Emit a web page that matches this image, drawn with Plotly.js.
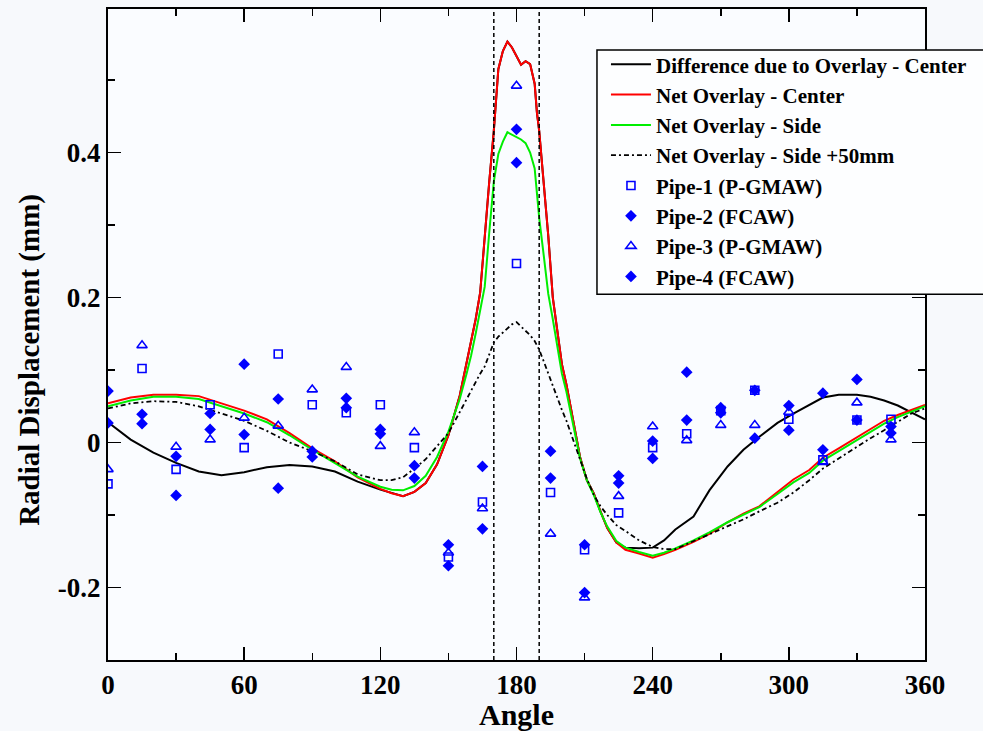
<!DOCTYPE html>
<html>
<head>
<meta charset="utf-8">
<script src="https://cdn.plot.ly/plotly-3.0.1.min.js"></script>
<style>
  html, body { margin: 0; padding: 0; background: #f7f9fc; }
  #chart { width: 983px; height: 731px; }
</style>
</head>
<body>
<div id="chart"></div>
<script>
// Angular stations (degrees) for the simulated profiles
const angleGrid = [0,10,20,30,40,50,60,70,80,90,100,110,120,125,130,135,140,145,150,155,158,160,162,164,166,168,170,172,174,176,178,180,182,184,186,188,189,190,192,194,196,198,200,202,205,208,211,214,217,220,224,228,234,240,245,250,258,265,273,280,287,295,302,309,315,322,330,336,342,348,354,360];

// Difference due to Overlay - Center (mm)
const diffCenter = [0.028,0.004,-0.014,-0.028,-0.040,-0.045,-0.041,-0.034,-0.031,-0.033,-0.040,-0.054,-0.065,-0.070,-0.074,-0.068,-0.056,-0.030,0.010,0.065,0.110,0.140,0.170,0.207,0.290,0.360,0.430,0.515,0.540,0.553,0.545,0.532,0.521,0.526,0.522,0.495,0.455,0.430,0.360,0.285,0.200,0.150,0.108,0.080,0.030,-0.020,-0.052,-0.070,-0.095,-0.118,-0.138,-0.145,-0.146,-0.145,-0.135,-0.120,-0.102,-0.066,-0.033,-0.010,0.008,0.027,0.040,0.052,0.062,0.066,0.066,0.063,0.058,0.051,0.041,0.032];

// Net Overlay - Center (mm)
const netCenter = [0.054,0.062,0.066,0.066,0.064,0.054,0.044,0.032,0.013,-0.008,-0.026,-0.048,-0.064,-0.070,-0.074,-0.068,-0.056,-0.030,0.010,0.065,0.110,0.140,0.170,0.207,0.290,0.360,0.430,0.515,0.540,0.553,0.545,0.532,0.521,0.526,0.522,0.495,0.455,0.430,0.360,0.285,0.200,0.150,0.108,0.080,0.030,-0.020,-0.052,-0.070,-0.095,-0.118,-0.138,-0.148,-0.153,-0.159,-0.154,-0.148,-0.137,-0.126,-0.110,-0.098,-0.088,-0.068,-0.051,-0.038,-0.021,-0.008,0.007,0.018,0.030,0.038,0.045,0.052];

// Net Overlay - Side (mm)
const netSide = [0.050,0.058,0.063,0.063,0.060,0.050,0.040,0.028,0.010,-0.010,-0.028,-0.047,-0.061,-0.065,-0.066,-0.060,-0.046,-0.020,0.015,0.060,0.095,0.120,0.150,0.180,0.215,0.290,0.360,0.398,0.415,0.428,0.425,0.421,0.418,0.413,0.400,0.378,0.345,0.310,0.258,0.205,0.170,0.130,0.095,0.070,0.025,-0.022,-0.052,-0.072,-0.096,-0.116,-0.136,-0.145,-0.151,-0.156,-0.152,-0.146,-0.135,-0.124,-0.110,-0.099,-0.089,-0.071,-0.055,-0.042,-0.025,-0.012,0.003,0.014,0.026,0.035,0.043,0.050];

// Net Overlay - Side +50mm (mm)
const netSide50 = [0.047,0.054,0.057,0.056,0.050,0.040,0.030,0.016,0.000,-0.012,-0.026,-0.044,-0.052,-0.052,-0.048,-0.036,-0.023,-0.005,0.013,0.042,0.060,0.072,0.085,0.095,0.105,0.122,0.138,0.146,0.152,0.158,0.163,0.166,0.160,0.154,0.148,0.140,0.134,0.128,0.112,0.095,0.080,0.062,0.045,0.030,0.003,-0.025,-0.050,-0.072,-0.088,-0.100,-0.114,-0.122,-0.135,-0.144,-0.147,-0.147,-0.136,-0.127,-0.116,-0.106,-0.095,-0.083,-0.069,-0.052,-0.036,-0.022,-0.005,0.006,0.017,0.028,0.040,0.047];

// Measured stations (degrees) and pipe measurements (mm)
const measAngles = [0,15,30,45,60,75,90,105,120,135,150,165,180,195,210,225,240,255,270,285,300,315,330,345];
const pipe1 = [-0.057,0.102,-0.037,0.052,-0.007,0.122,0.052,0.041,0.052,-0.007,-0.158,-0.082,0.247,-0.069,-0.148,-0.097,-0.007,0.012,0.044,0.072,0.032,-0.024,0.031,0.032];
const pipe2 = [0.071,0.039,-0.019,0.040,0.108,0.060,-0.012,0.061,0.018,-0.032,-0.141,-0.033,0.432,-0.012,-0.141,-0.046,0.002,0.097,0.048,0.072,0.051,0.068,0.087,0.022];
const pipe3 = [-0.037,0.134,-0.006,0.004,0.034,0.023,0.073,0.104,-0.005,0.014,-0.152,-0.091,0.492,-0.126,-0.214,-0.074,0.022,0.003,0.024,0.024,0.042,-0.027,0.055,0.004];
const pipe4 = [0.027,0.026,-0.073,0.018,0.011,-0.063,-0.020,0.048,0.012,-0.049,-0.170,-0.119,0.386,-0.049,-0.207,-0.056,-0.022,0.031,0.041,0.006,0.017,-0.010,0.031,0.013];

// Weld zone boundaries (degrees)
const weldZone = [170, 190];

// Axis ticks
const xTickVals = [0,60,120,180,240,300,360];
const xTickText = ['0','60','120','180','240','300','360'];
const yTickVals = [-0.2,0,0.2,0.4];
const yTickText = ['-0.2','0','0.2','0.4'];

const serif = 'Liberation Serif, Times New Roman, serif';
const blue = '#0000ff';

const traces = [
  { x: angleGrid, y: diffCenter, mode: 'lines', name: 'Difference due to Overlay - Center',
    line: { color: '#000000', width: 2 } },
  { x: angleGrid, y: netCenter, mode: 'lines', name: 'Net Overlay - Center',
    line: { color: '#ff0000', width: 2 } },
  { x: angleGrid, y: netSide, mode: 'lines', name: 'Net Overlay - Side',
    line: { color: '#00ee00', width: 2 } },
  { x: angleGrid, y: netSide50, mode: 'lines', name: 'Net Overlay - Side +50mm',
    line: { color: '#000000', width: 1.8, dash: '5px,3px,2px,3px' } },
  { x: measAngles, y: pipe1, mode: 'markers', name: 'Pipe-1 (P-GMAW)',
    marker: { symbol: 'square-open', size: 8, color: blue, line: { width: 1.6, color: blue } } },
  { x: measAngles, y: pipe2, mode: 'markers', name: 'Pipe-2 (FCAW)',
    marker: { symbol: 'diamond', size: 9, color: blue, line: { width: 0 } } },
  { x: measAngles, y: pipe3, mode: 'markers', name: 'Pipe-3 (P-GMAW)',
    marker: { symbol: 'triangle-up-open', size: 9, color: blue, line: { width: 1.6, color: blue } } },
  { x: measAngles, y: pipe4, mode: 'markers', name: 'Pipe-4 (FCAW)',
    marker: { symbol: 'diamond', size: 9, color: blue, line: { width: 0 } } }
];

// Weld zone markers plus the framed box behind the legend
const shapes = weldZone.map(a => ({
  type: 'line', xref: 'x', yref: 'paper', x0: a, x1: a, y0: 0, y1: 1,
  line: { color: '#000000', width: 1.5, dash: '4px,3px' }
}));
shapes.push({
  type: 'rect', xref: 'paper', yref: 'paper', layer: 'above',
  x0: 0.5985, x1: 1.12, y0: 0.562, y1: 0.937,
  fillcolor: '#fdfeff', line: { color: '#000000', width: 1.5 }
});

const axisCommon = {
  showline: true, linecolor: '#000000', linewidth: 2, mirror: 'allticks',
  ticks: 'inside', ticklen: 13, tickwidth: 1.5, tickcolor: '#000000',
  showgrid: false, zeroline: false,
  tickfont: { family: serif, size: 27, color: '#000000', weight: 'bold' }
};

const layout = {
  width: 983, height: 731,
  margin: { l: 108, r: 58, t: 9, b: 71 },
  paper_bgcolor: '#f7f9fc',
  plot_bgcolor: '#fafcff',
  showlegend: true,
  xaxis: Object.assign({}, axisCommon, {
    range: [0, 360], tickmode: 'array', tickvals: xTickVals, ticktext: xTickText,
    minor: { dtick: 30, tick0: 0, ticks: 'inside', ticklen: 7, tickwidth: 1.5, tickcolor: '#000000' },
    title: { text: 'Angle', standoff: 6, font: { family: serif, size: 30, color: '#000000', weight: 'bold' } }
  }),
  yaxis: Object.assign({}, axisCommon, {
    range: [-0.3, 0.598], tickmode: 'array', tickvals: yTickVals, ticktext: yTickText,
    minor: { dtick: 0.1, tick0: 0, ticks: 'inside', ticklen: 7, tickwidth: 1.5, tickcolor: '#000000' }
  }),
  annotations: [{
    text: 'Radial Displacement (mm)', textangle: -90, showarrow: false,
    xref: 'paper', yref: 'paper', x: -0.0955, y: 0.461, xanchor: 'center', yanchor: 'middle',
    font: { family: serif, size: 29, color: '#000000', weight: 'bold' }
  }],
  legend: {
    x: 0.6095, y: 0.946, xanchor: 'left', yanchor: 'top',
    bgcolor: 'rgba(0,0,0,0)', borderwidth: 0,
    font: { family: serif, size: 21, color: '#000000', weight: 'bold' },
    itemwidth: 40, tracegroupgap: 0
  },
  shapes: shapes
};

Plotly.newPlot('chart', traces, layout, { displayModeBar: false, staticPlot: true });
</script>
</body>
</html>
